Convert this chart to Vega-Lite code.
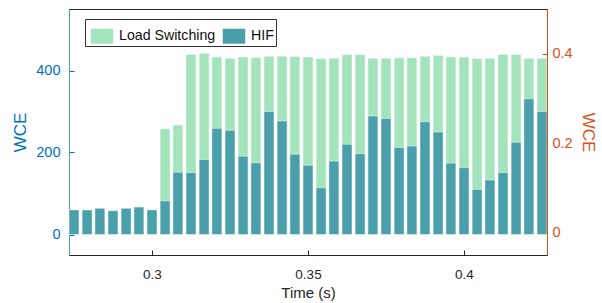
{
  "$schema": "https://vega.github.io/schema/vega-lite/v6.json",
  "autosize": {"type": "none"},
  "width": 478,
  "height": 246,
  "padding": {"left": 69, "top": 9, "right": 55, "bottom": 48},
  "background": "white",
  "config": {
    "font": "Liberation Sans",
    "view": {"stroke": "#262626", "strokeWidth": 1},
    "axis": {"grid": false, "labelFont": "Liberation Sans", "titleFont": "Liberation Sans", "titleFontWeight": "normal"}
  },
  "data": {"values": [
    {"time": 0.275, "ls": 55, "hif": 60},
    {"time": 0.2792, "ls": 55, "hif": 60},
    {"time": 0.2833, "ls": 58, "hif": 64},
    {"time": 0.2875, "ls": 52, "hif": 58},
    {"time": 0.2917, "ls": 58, "hif": 64},
    {"time": 0.2958, "ls": 60, "hif": 67},
    {"time": 0.3, "ls": 55, "hif": 60},
    {"time": 0.3042, "ls": 258, "hif": 82},
    {"time": 0.3083, "ls": 267, "hif": 152},
    {"time": 0.3125, "ls": 439, "hif": 151},
    {"time": 0.3167, "ls": 442, "hif": 183},
    {"time": 0.3208, "ls": 433, "hif": 259},
    {"time": 0.325, "ls": 430, "hif": 254},
    {"time": 0.3292, "ls": 433, "hif": 191},
    {"time": 0.3333, "ls": 432, "hif": 175},
    {"time": 0.3375, "ls": 435, "hif": 300},
    {"time": 0.3417, "ls": 435, "hif": 277},
    {"time": 0.3458, "ls": 434, "hif": 196},
    {"time": 0.35, "ls": 433, "hif": 169},
    {"time": 0.3542, "ls": 429, "hif": 114},
    {"time": 0.3583, "ls": 430, "hif": 179},
    {"time": 0.3625, "ls": 439, "hif": 220},
    {"time": 0.3667, "ls": 439, "hif": 197},
    {"time": 0.3708, "ls": 430, "hif": 289},
    {"time": 0.375, "ls": 430, "hif": 283},
    {"time": 0.3792, "ls": 431, "hif": 212},
    {"time": 0.3833, "ls": 431, "hif": 216},
    {"time": 0.3875, "ls": 435, "hif": 275},
    {"time": 0.3917, "ls": 437, "hif": 250},
    {"time": 0.3958, "ls": 433, "hif": 174},
    {"time": 0.4, "ls": 433, "hif": 163},
    {"time": 0.4042, "ls": 429, "hif": 110},
    {"time": 0.4083, "ls": 430, "hif": 133},
    {"time": 0.4125, "ls": 439, "hif": 151},
    {"time": 0.4167, "ls": 439, "hif": 225},
    {"time": 0.4208, "ls": 430, "hif": 331},
    {"time": 0.425, "ls": 430, "hif": 300}
  ]},
  "encoding": {
    "x": {
      "field": "time", "type": "quantitative",
      "scale": {"domain": [0.275, 0.425], "nice": false, "zero": false},
      "axis": {
        "values": [0.3, 0.35, 0.4], "format": "~g", "title": "Time (s)",
        "domainColor": "#262626", "tickColor": "#262626", "tickSize": -5,
        "labelColor": "#262626", "labelFontSize": 13.5, "labelPadding": 17,
        "titleColor": "#262626", "titleFontSize": 15, "titlePadding": 5
      }
    }
  },
  "layer": [
    {
      "encoding": {
        "y": {
          "type": "quantitative",
          "scale": {"domain": [-50, 550], "nice": false, "zero": false},
          "axis": {
            "orient": "left", "values": [0, 200, 400], "title": "WCE",
            "domainColor": "#4a9ad8", "tickColor": "#0072BD", "tickSize": -5,
            "labelColor": "#0072BD", "labelFontSize": 14.5, "labelPadding": 14,
            "titleColor": "#0072BD", "titleFontSize": 17, "titlePadding": 6
          }
        }
      },
      "layer": [
        {
          "mark": {"type": "bar", "width": 10, "clip": true, "stroke": "white", "strokeWidth": 0.5},
          "encoding": {
            "y": {"field": "ls"},
            "color": {
              "datum": "Load Switching", "type": "nominal",
              "scale": {"domain": ["Load Switching", "HIF"], "range": ["#a4e4bd", "#4a9fab"]},
              "legend": {
                "title": null, "orient": "none", "legendX": 16, "legendY": 10,
                "direction": "horizontal", "strokeColor": "#333333", "fillColor": "white",
                "padding": 2, "columnPadding": 3, "labelOffset": 2,
                "symbolType": "M-0.75,-0.5H0.75V0.5H-0.75Z", "symbolSize": 900,
                "symbolStrokeWidth": 0, "symbolOpacity": 1,
                "labelFontSize": 14.2, "labelColor": "#111111", "labelLimit": 300
              }
            }
          }
        },
        {
          "mark": {"type": "bar", "width": 10, "clip": true, "stroke": "white", "strokeWidth": 0.5},
          "encoding": {
            "y": {"field": "hif"},
            "color": {"datum": "HIF", "type": "nominal"}
          }
        },
        {
          "mark": {"type": "rule", "color": "#5aaae0", "strokeWidth": 2},
          "encoding": {"y": {"datum": 0}}
        }
      ]
    },
    {
      "mark": {"type": "rule", "strokeWidth": 0},
      "encoding": {
        "y": {
          "datum": 0, "type": "quantitative",
          "scale": {"domain": [-0.05, 0.5], "nice": false, "zero": false},
          "axis": {
            "orient": "right", "values": [0, 0.2, 0.4], "format": "~g", "title": "WCE",
            "domainColor": "#D95319", "tickColor": "#D95319", "tickSize": -5,
            "labelColor": "#D95319", "labelFontSize": 14.5, "labelPadding": 10,
            "titleColor": "#D95319", "titleFontSize": 17, "titlePadding": 6
          }
        }
      }
    }
  ],
  "resolve": {"scale": {"y": "independent"}}
}
